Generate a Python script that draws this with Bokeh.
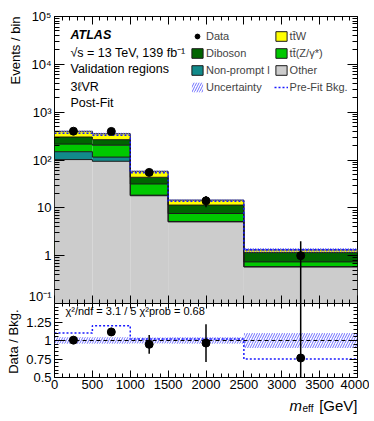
import math
from bokeh.plotting import figure
from bokeh.layouts import column
from bokeh.models import (ColumnDataSource, FixedTicker, LogAxis, LinearAxis, Label, Title,
                          Legend, LegendItem, CustomJSTickFormatter, Range1d, Span)
from bokeh.embed import file_html
from bokeh.resources import INLINE

# ---------------- data ----------------
bin_lo = [0, 500, 1000, 1500, 2500]
bin_hi = [500, 1000, 1500, 2500, 4000]
other = [102, 94, 17.9, 5.07, 0.57]
nonprompt = [47, 21, 0.5, 0.1, 0.01]
ttz = [66, 89, 13.1, 2.43, 0.15]
diboson = [87, 62, 12.0, 3.8, 0.42]
ttw = [96, 89, 14.5, 3.1, 0.16]
data = [400, 396, 55, 14, 1]
data_err = [20.0, 19.9, 7.4, 3.7, 1.0]
unc_rel = [0.045, 0.045, 0.04, 0.045, 0.10]
prefit_ratio = [1.10, 1.20, 1.02, 1.02, 0.75]

x_ticks = [0, 500, 1000, 1500, 2000, 2500, 3000, 3500, 4000]
x_tick_labels = ["0", "500", "1000", "1500", "2000", "2500", "3000", "3500", "4000"]
y_ticks = [0.1, 1, 10, 100, 1000, 10000, 100000]
y_tick_labels = ["10\u207b\u00b9", "1", "10", "10\u00b2", "10\u00b3", "10\u2074", "10\u2075"]
ratio_ticks = [0.5, 0.75, 1.0, 1.25]
ratio_tick_labels = ["0.5", "0.75", "1", "1.25"]

names = ["Other", "Non-prompt l", "t\u0074\u0304(Z/\u03b3*)", "Diboson", "t\u0074\u0304W"]
colors = ["#cccccc", "#128a8a", "#00c800", "#006400", "#ffff00"]
components = [other, nonprompt, ttz, diboson, ttw]

FONT = "Liberation Sans"
FW, FH, RH, SH = 303, 287, 74, 25
LB, RB = 52, 12

# ---------------- derived ----------------
centers = [(a + b) / 2 for a, b in zip(bin_lo, bin_hi)]
total = [sum(c[i] for c in components) for i in range(5)]
prefit = [d / r for d, r in zip(data, prefit_ratio)]
edges = bin_lo + [bin_hi[-1]]

x_minor = [v for v in range(0, 4001, 100) if v % 500 != 0]
y_minor = [m * 10.0 ** e for e in range(-1, 5) for m in range(2, 10)]
r_minor = [round(0.5 + 0.05 * k, 3) for k in range(21) if (k % 5) != 0]

blank = CustomJSTickFormatter(code="return ''")

def style_axis(ax, major_in, minor_in, font_size="13px"):
    ax.major_tick_in = major_in
    ax.major_tick_out = 0
    ax.minor_tick_in = minor_in
    ax.minor_tick_out = 0
    ax.axis_line_color = None
    ax.major_tick_line_color = "black"
    ax.minor_tick_line_color = "black"
    ax.major_label_text_font = FONT
    ax.major_label_text_font_size = font_size
    ax.major_label_text_color = "black"
    ax.major_label_standoff = 3

def step_y(vals):
    return list(vals) + [vals[-1]]

# ---------------- main figure ----------------
xr = Range1d(0, 4000)
p = figure(frame_width=FW, frame_height=FH, x_range=xr, y_range=Range1d(0.1, 1e5),
           y_axis_type="log", output_backend="svg", toolbar_location=None,
           min_border_left=LB, min_border_right=RB, min_border_top=16, min_border_bottom=0)
p.grid.visible = False
p.outline_line_color = "black"
p.outline_line_width = 1
p.background_fill_color = "white"

p.xaxis.ticker = FixedTicker(ticks=x_ticks, minor_ticks=x_minor)
p.xaxis.formatter = blank
style_axis(p.xaxis[0], 8, 4)
p.xaxis.major_label_standoff = 0
p.yaxis.ticker = FixedTicker(ticks=y_ticks, minor_ticks=y_minor)
p.yaxis.major_label_overrides = dict(zip(y_ticks, y_tick_labels))
style_axis(p.yaxis[0], 10, 5)

ax_r = LogAxis(ticker=FixedTicker(ticks=y_ticks, minor_ticks=y_minor), formatter=blank)
style_axis(ax_r, 10, 5); ax_r.major_label_standoff = 0
p.add_layout(ax_r, "right")
ax_t = LinearAxis(ticker=FixedTicker(ticks=x_ticks, minor_ticks=x_minor), formatter=blank)
style_axis(ax_t, 8, 4); ax_t.major_label_standoff = 0
p.add_layout(ax_t, "above")

p.add_layout(Title(text="Events / bin", align="right", text_font=FONT, text_font_size="13px",
                   text_font_style="normal", text_color="black", standoff=6, offset=0), "left")

bottom = [0.01] * 5
stack_renderers = []
tops = []
for comp, col in zip(components, colors):
    top = [b + v for b, v in zip(bottom, comp)]
    src = ColumnDataSource(dict(left=bin_lo, right=bin_hi, bottom=bottom, top=top))
    r = p.quad(left="left", right="right", bottom="bottom", top="top", source=src,
               fill_color=col, line_alpha=0)
    stack_renderers.append(r)
    tops.append(top)
    bottom = top
for top in tops:
    p.step(x=edges, y=step_y(top), mode="after", line_color="#1a1a1a", line_width=1)

band_src = ColumnDataSource(dict(left=bin_lo, right=bin_hi,
                                 bottom=[t * (1 - u) for t, u in zip(total, unc_rel)],
                                 top=[t * (1 + u) for t, u in zip(total, unc_rel)]))
band_r = p.quad(left="left", right="right", bottom="bottom", top="top", source=band_src,
                fill_alpha=0, line_alpha=0, hatch_pattern="/", hatch_color="#7070ff",
                hatch_scale=5, hatch_weight=1)

pre_r = p.step(x=edges, y=step_y(prefit), mode="after", line_color="#1a1aff",
               line_dash="2 2", line_width=1.5)

p.segment(x0=centers, x1=centers,
          y0=[max(d - e, 1e-3) for d, e in zip(data, data_err)],
          y1=[d + e for d, e in zip(data, data_err)], line_color="black", line_width=1.5)
data_r = p.scatter(x=centers, y=data, size=8, color="black")

# outlined legend swatches, placed outside the visible x-range
proxy = []
for col in colors:
    proxy.append(p.quad(left=[-10], right=[-5], bottom=[1], top=[2], fill_color=col,
                        line_color="#1a1a1a", line_width=1))

legend = Legend(items=[
    LegendItem(label="Data", renderers=[data_r]),
    LegendItem(label="Diboson", renderers=[proxy[3]]),
    LegendItem(label="Non-prompt l", renderers=[proxy[1]]),
    LegendItem(label="Uncertainty", renderers=[band_r]),
    LegendItem(label=names[4], renderers=[proxy[4]]),
    LegendItem(label=names[2], renderers=[proxy[2]]),
    LegendItem(label="Other", renderers=[proxy[0]]),
    LegendItem(label="Pre-Fit Bkg.", renderers=[pre_r]),
], ncols=2, orientation="vertical", location=(136, 210))
legend.label_text_font = FONT
legend.label_text_font_size = "11px"
legend.glyph_width = 14
legend.glyph_height = 12
legend.label_height = 13
legend.label_standoff = 2
legend.spacing = 4
legend.padding = 0
legend.margin = 0
legend.border_line_alpha = 0
legend.background_fill_alpha = 0
p.add_layout(legend, "center")

def y_main(dy):
    return 10 ** (5 - dy * 6.0 / FH)

def x_at(dx):
    return dx * 4000.0 / FW

texts = [("ATLAS", 18.5, "bold italic"),
         ("\u221as = 13 TeV, 139 fb\u207b\u00b9", 36, "normal"),
         ("Validation regions", 52.5, "normal"),
         ("3\u2113VR", 70.5, "normal"),
         ("Post-Fit", 86.5, "normal")]
for t, dy, st in texts:
    p.add_layout(Label(x=x_at(16), y=y_main(dy), text=t, text_font=FONT,
                       text_font_size="12.5px", text_font_style=st,
                       text_baseline="middle", text_color="black"))

# ---------------- ratio figure ----------------
q = figure(frame_width=FW, frame_height=RH, x_range=xr, y_range=Range1d(0.5, 1.5),
           output_backend="svg", toolbar_location=None,
           min_border_left=LB, min_border_right=RB, min_border_top=0, min_border_bottom=0)
q.grid.visible = False
q.outline_line_color = "black"
q.background_fill_color = "white"
q.xaxis.ticker = FixedTicker(ticks=x_ticks, minor_ticks=x_minor)
q.xaxis.major_label_overrides = dict(zip(x_ticks, x_tick_labels))
style_axis(q.xaxis[0], 7, 4)
q.xaxis.major_label_standoff = 2
q.yaxis.ticker = FixedTicker(ticks=ratio_ticks, minor_ticks=r_minor)
q.yaxis.major_label_overrides = dict(zip(ratio_ticks, ratio_tick_labels))
style_axis(q.yaxis[0], 8, 4)

qa_r = LinearAxis(ticker=FixedTicker(ticks=ratio_ticks, minor_ticks=r_minor), formatter=blank)
style_axis(qa_r, 8, 4); qa_r.major_label_standoff = 0
q.add_layout(qa_r, "right")
qa_t = LinearAxis(ticker=FixedTicker(ticks=x_ticks, minor_ticks=x_minor), formatter=blank)
style_axis(qa_t, 5, 3); qa_t.major_label_standoff = 0
q.add_layout(qa_t, "above")

q.add_layout(Title(text="Data / Bkg.", align="right", text_font=FONT, text_font_size="13px",
                   text_font_style="normal", text_color="black", standoff=6, offset=6), "left")

q.quad(left=bin_lo, right=bin_hi, bottom=[1 - u for u in unc_rel], top=[1 + u for u in unc_rel],
       fill_alpha=0, line_alpha=0, hatch_pattern="/", hatch_color="#7070ff",
       hatch_scale=5, hatch_weight=1)
q.add_layout(Span(location=1.0, dimension="width", line_color="black", line_dash="4 3",
                  line_width=1))
q.step(x=edges, y=step_y(prefit_ratio), mode="after", line_color="#1a1aff",
       line_dash="2 2", line_width=1.5)
ratio = [d / t for d, t in zip(data, total)]
ratio_err = [e / t for e, t in zip(data_err, total)]
q.segment(x0=centers, x1=centers, y0=[r - e for r, e in zip(ratio, ratio_err)],
          y1=[r + e for r, e in zip(ratio, ratio_err)], line_color="black", line_width=1.5)
q.scatter(x=centers, y=ratio, size=8, color="black")

def y_rat(dy):
    return 1.5 - dy * 1.0 / RH

q.add_layout(Label(x=x_at(11), y=y_rat(7), text="\u03c7\u00b2/ndf = 3.1 / 5   \u03c7\u00b2prob = 0.68",
                   text_font=FONT, text_font_size="11px", text_baseline="middle",
                   text_color="black"))

# ---------------- x-axis title strip ----------------
s = figure(frame_width=FW, frame_height=SH, x_range=xr, y_range=Range1d(0, 1),
           output_backend="svg", toolbar_location=None,
           min_border_left=LB, min_border_right=RB, min_border_top=0, min_border_bottom=0)
s.axis.visible = False
s.grid.visible = False
s.outline_line_color = None

def y_strip(dy):
    return 1 - dy * 1.0 / SH

s.add_layout(Label(x=4000, y=y_strip(14), text="[GeV]", text_align="right",
                   text_baseline="alphabetic", text_font=FONT, text_font_size="15px",
                   text_color="black"))
s.add_layout(Label(x=x_at(248), y=y_strip(17), text="eff", text_align="left",
                   text_baseline="alphabetic", text_font=FONT, text_font_size="10px",
                   text_color="black"))
s.add_layout(Label(x=x_at(235), y=y_strip(14), text="m", text_align="left",
                   text_baseline="alphabetic", text_font=FONT, text_font_size="15px",
                   text_font_style="italic", text_color="black"))

layout = column(p, q, s, spacing=0)
open("out.html", "w").write(file_html(layout, INLINE))
